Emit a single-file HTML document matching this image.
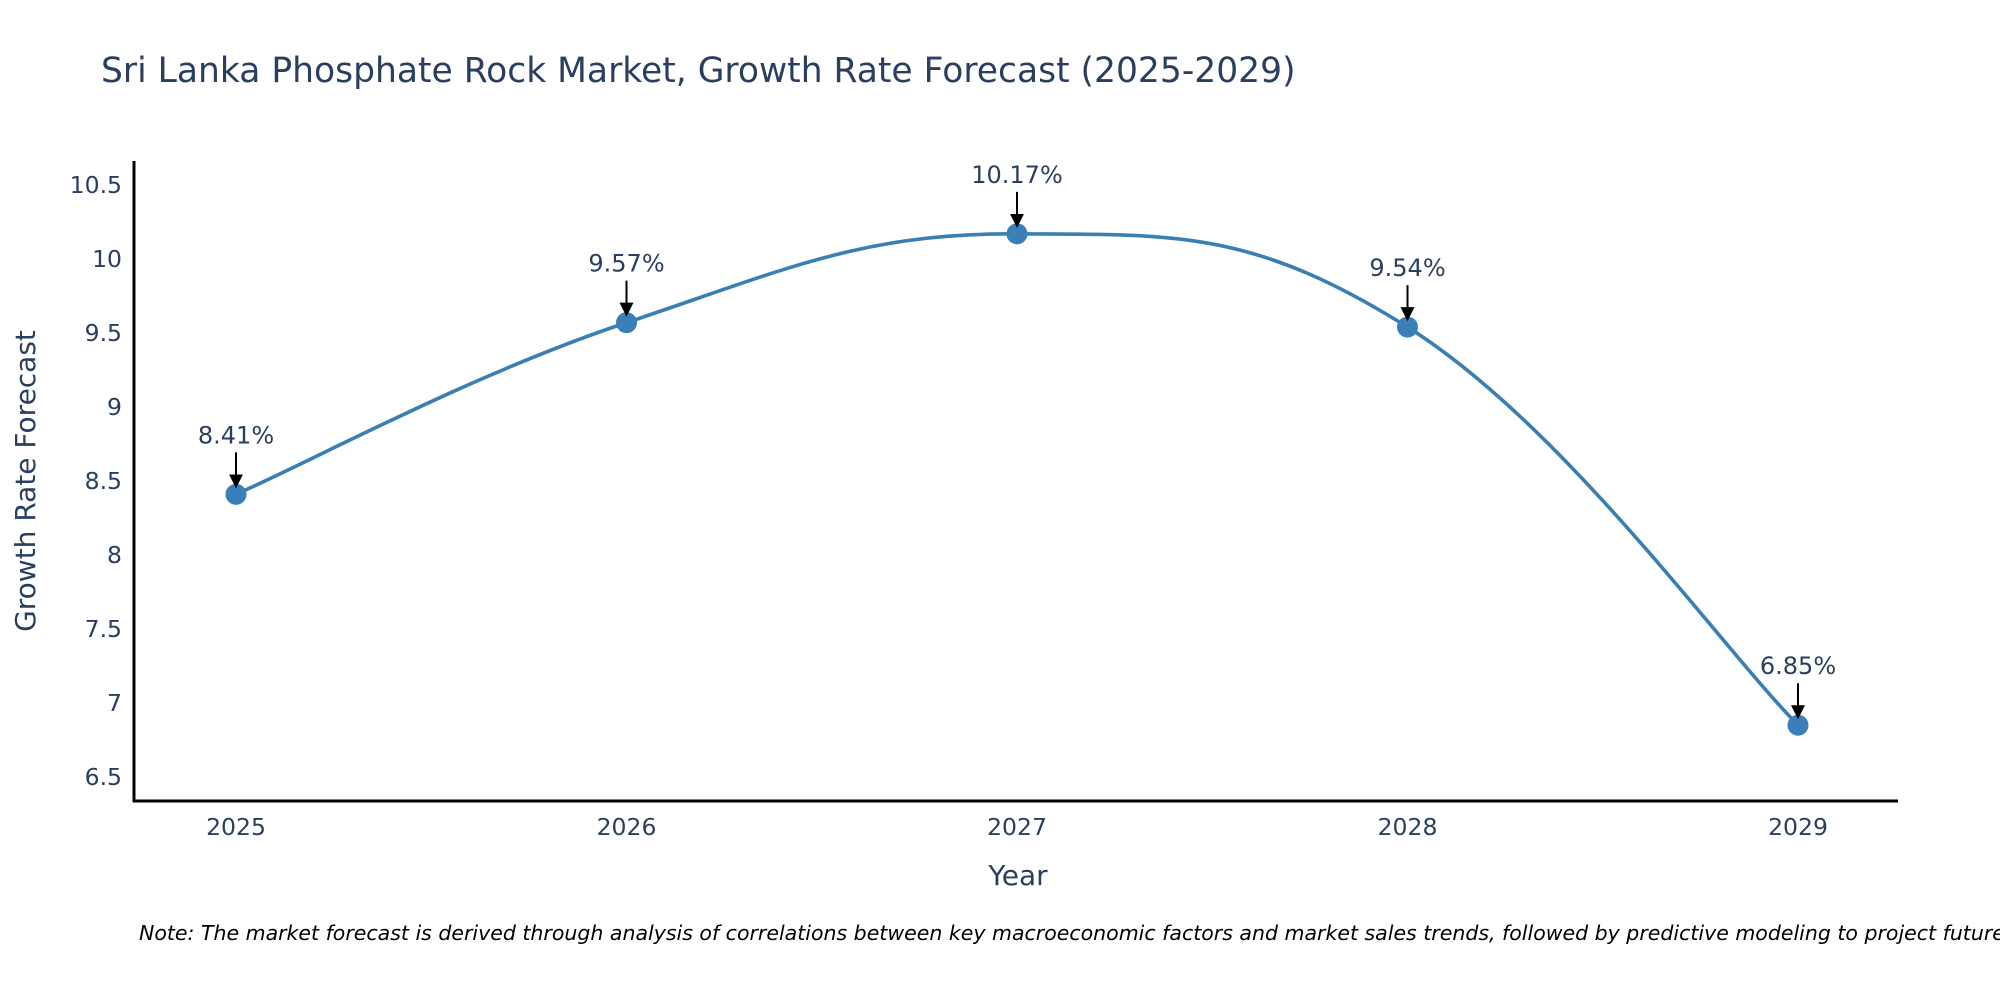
<!DOCTYPE html>
<html><head><meta charset="utf-8"><style>
html,body{margin:0;padding:0;background:#fff;}
svg{display:block;font-family:"DejaVu Sans","Liberation Sans",sans-serif;}
</style></head><body>
<svg id="chart" width="2000" height="1000" viewBox="0 0 2000 1000" xmlns="http://www.w3.org/2000/svg">
<defs><marker id="ah" markerWidth="14" markerHeight="14" refX="12" refY="7" orient="auto" markerUnits="userSpaceOnUse" viewBox="0 0 14 14"><path d="M0,0 L14,7 L0,14 z" fill="#000"/></marker></defs>
<text x="101" y="82" font-size="34.5" fill="#2a3f5f">Sri Lanka Phosphate Rock Market, Growth Rate Forecast (2025-2029)</text>
<g id="yticks"></g><g id="xticks"></g>
<path id="curve" fill="none" stroke="#3a7fb1" stroke-width="3.6"/>
<g id="points"></g><g id="annots"></g>
<line x1="134" y1="161" x2="134" y2="802" stroke="#000" stroke-width="3"/>
<line x1="133" y1="801" x2="1898" y2="801" stroke="#000" stroke-width="3"/>
<text x="1018" y="885" font-size="28" fill="#2a3f5f" text-anchor="middle">Year</text>
<text transform="translate(35,481) rotate(-90)" font-size="28" fill="#2a3f5f" text-anchor="middle">Growth Rate Forecast</text>
<text x="139" y="940" font-size="20.5" font-style="italic" fill="#000">Note: The market forecast is derived through analysis of correlations between key macroeconomic factors and market sales trends, followed by predictive modeling to project future sales.</text>
</svg>
<script>
const years = ["2025","2026","2027","2028","2029"];
const values = [8.41, 9.57, 10.17, 9.54, 6.85];
const labels = ["8.41%","9.57%","10.17%","9.54%","6.85%"];
const yTickValues = [6.5,7,7.5,8,8.5,9,9.5,10,10.5];
const yTickLabels = ["6.5","7","7.5","8","8.5","9","9.5","10","10.5"];
const NS="http://www.w3.org/2000/svg";
function xs(i){return 236+i*390.5;}
function ys(v){return 185+(10.5-v)*148;}
function mk(t,a,p){const e=document.createElementNS(NS,t);for(const k in a)e.setAttribute(k,a[k]);p.appendChild(e);return e;}
const yt=document.getElementById('yticks');
yTickValues.forEach((v,i)=>{const t=mk('text',{x:122,y:ys(v)+8,'font-size':23.5,fill:'#2a3f5f','text-anchor':'end'},yt);


t.textContent=yTickLabels[i];});
const xt=document.getElementById('xticks');
years.forEach((y,i)=>{const t=mk('text',{x:xs(i),y:835,'font-size':23.5,fill:'#2a3f5f','text-anchor':'middle'},xt);


t.textContent=y;});
const P=values.map((v,i)=>[xs(i),ys(v)]);
let d='M'+P[0][0]+','+P[0][1];const s=0.2;
for(let i=0;i<P.length-1;i++){const p0=P[Math.max(0,i-1)],p1=P[i],p2=P[i+1],p3=P[Math.min(P.length-1,i+2)];
d+=' C'+(p1[0]+(p2[0]-p0[0])*s)+','+(p1[1]+(p2[1]-p0[1])*s)+' '+(p2[0]-(p3[0]-p1[0])*s)+','+(p2[1]-(p3[1]-p1[1])*s)+' '+p2[0]+','+p2[1];}
document.getElementById('curve').setAttribute('d',d);
const pg=document.getElementById('points'),ag=document.getElementById('annots');
values.forEach((v,i)=>{const c=mk('circle',{cx:xs(i),cy:ys(v),r:10.5,fill:'#3a7fb8'},pg);


const l=mk('line',{x1:xs(i),y1:ys(v)-42,x2:xs(i),y2:ys(v)-8,stroke:'#000','stroke-width':2,'marker-end':'url(#ah)'},ag);


const t=mk('text',{x:xs(i),y:ys(v)-51,'font-size':24,fill:'#2a3f5f','text-anchor':'middle'},ag);


t.textContent=labels[i];});
</script>
</body></html>
